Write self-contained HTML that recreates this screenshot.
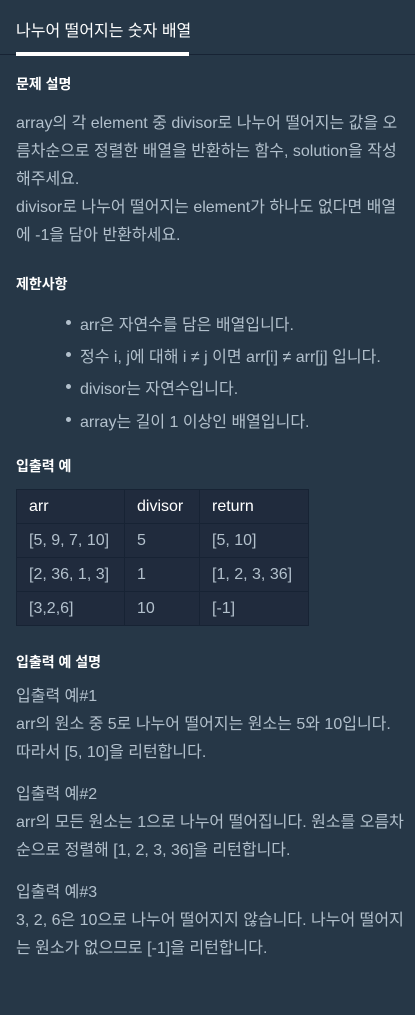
<!DOCTYPE html>
<html><head><meta charset="utf-8"><style>
body{margin:0;width:415px;height:1015px;background:#263747;overflow:hidden;font-family:"Liberation Sans","Noto Sans CJK KR",sans-serif;position:relative}
.a{position:absolute;white-space:nowrap;left:16px}
.t{color:#b2c0cc;font-size:16px;line-height:28px}
.h{color:#fff;font-size:14px;font-weight:bold}
li{position:absolute;left:80px;white-space:nowrap;color:#b2c0cc;font-size:16px}
li:before{content:"";position:absolute;left:-14px;top:9px;width:5px;height:5px;border-radius:50%;background:#b2c0cc}
table{position:absolute;left:16px;top:489px;border-collapse:collapse;background:#202b3d;font-size:16px}
td{border:1px solid #172334;height:33px;padding:0 12px;color:#b2c0cc;white-space:nowrap;box-sizing:border-box}
tr:first-child td{color:#fff}
</style></head><body>
<div class="a" style="top:17px;color:#fff;font-size:16px">나누어 떨어지는 숫자 배열</div>
<div style="position:absolute;left:0;top:54px;width:415px;height:1px;background:#172334"></div>
<div style="position:absolute;left:16px;top:52px;width:173px;height:4px;background:#fff"></div>
<div class="a h" style="top:74px">문제 설명</div>
<div class="a t" style="top:110px">array의 각 element 중 divisor로 나누어 떨어지는 값을 오<br>름차순으로 정렬한 배열을 반환하는 함수, solution을 작성<br>해주세요.<br>divisor로 나누어 떨어지는 element가 하나도 없다면 배열<br>에 -1을 담아 반환하세요.</div>
<div class="a h" style="top:274px">제한사항</div>
<ul style="margin:0;padding:0;list-style:none">
<li style="top:311px">arr은 자연수를 담은 배열입니다.</li>
<li style="top:343px">정수 i, j에 대해 i ≠ j 이면 arr[i] ≠ arr[j] 입니다.</li>
<li style="top:375px">divisor는 자연수입니다.</li>
<li style="top:408px">array는 길이 1 이상인 배열입니다.</li>
</ul>
<div class="a h" style="top:456px">입출력 예</div>
<table>
<tr><td style="width:108px;height:34px">arr</td><td style="width:75px">divisor</td><td style="width:109px">return</td></tr>
<tr><td style="height:34px">[5, 9, 7, 10]</td><td>5</td><td>[5, 10]</td></tr>
<tr><td style="height:34px">[2, 36, 1, 3]</td><td>1</td><td>[1, 2, 3, 36]</td></tr>
<tr><td style="height:34px">[3,2,6]</td><td>10</td><td>[-1]</td></tr>
</table>
<div class="a h" style="top:652px">입출력 예 설명</div>
<div class="a t" style="top:683px">입출력 예#1<br>arr의 원소 중 5로 나누어 떨어지는 원소는 5와 10입니다.<br>따라서 [5, 10]을 리턴합니다.</div>
<div class="a t" style="top:781px">입출력 예#2<br>arr의 모든 원소는 1으로 나누어 떨어집니다. 원소를 오름차<br>순으로 정렬해 [1, 2, 3, 36]을 리턴합니다.</div>
<div class="a t" style="top:879px">입출력 예#3<br>3, 2, 6은 10으로 나누어 떨어지지 않습니다. 나누어 떨어지<br>는 원소가 없으므로 [-1]을 리턴합니다.</div>
</body></html>
